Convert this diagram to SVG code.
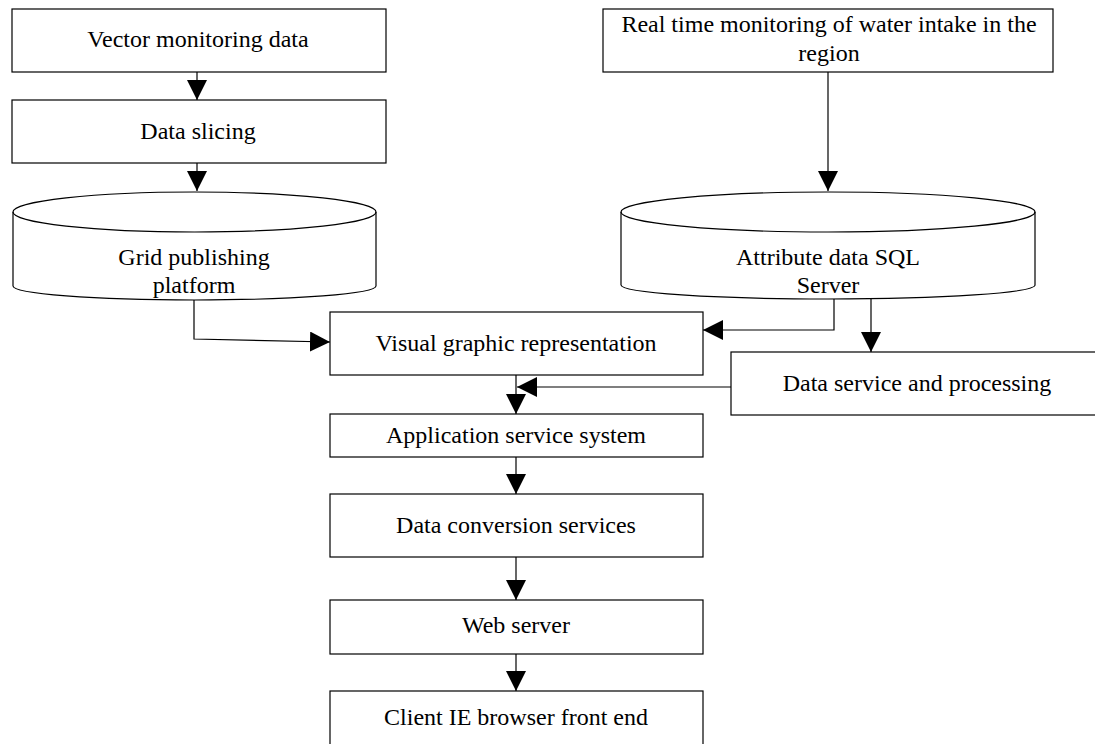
<svg xmlns="http://www.w3.org/2000/svg" width="1095" height="744" viewBox="0 0 1095 744">
<defs>
<style>
.box{fill:#fff;stroke:#000;stroke-width:1.2}
.cyl{fill:#fff;stroke:#000;stroke-width:1.2}
.t{font-family:"Liberation Serif","Times New Roman",serif;font-size:24px;fill:#000;text-anchor:middle}
.c{fill:none;stroke:#000;stroke-width:1.2}
</style>
<marker id="ah" markerUnits="userSpaceOnUse" viewBox="0 0 20 20" refX="20" refY="10" markerWidth="20" markerHeight="20" orient="auto">
<path d="M0,0 L20,10 L0,20 z" fill="#000"/>
</marker>
</defs>
<rect width="1095" height="744" fill="#fff"/>

<g id="vector">
<rect class="box" x="12" y="9" width="374" height="63"/>
<text class="t" x="198" y="47">Vector monitoring data</text>
</g>
<g id="slicing">
<rect class="box" x="12" y="100" width="374" height="63"/>
<text class="t" x="198" y="139">Data slicing</text>
</g>
<g id="grid">
<path class="cyl" d="M13,212 A181.5,20 0 0 1 376,212 L376,286 A181.5,14 0 0 1 13,286 Z"/>
<path class="c" d="M13,212 A181.5,20 0 0 0 376,212"/>
<text class="t" x="194" y="265">Grid publishing</text>
<text class="t" x="194" y="293">platform</text>
</g>
<g id="realtime">
<rect class="box" x="603" y="9" width="450" height="63"/>
<text class="t" x="829" y="32">Real time monitoring of water intake in the</text>
<text class="t" x="829" y="61">region</text>
</g>
<g id="attribute">
<path class="cyl" d="M621,212 A207,20 0 0 1 1035,212 L1035,285 A207,14 0 0 1 621,285 Z"/>
<path class="c" d="M621,212 A207,20 0 0 0 1035,212"/>
<text class="t" x="828" y="265">Attribute data SQL</text>
<text class="t" x="828" y="293">Server</text>
</g>
<g id="visual">
<rect class="box" x="330" y="312" width="373" height="63"/>
<text class="t" x="516" y="351">Visual graphic representation</text>
</g>
<g id="dataservice">
<rect class="box" x="731" y="352" width="370" height="63"/>
<text class="t" x="917" y="391">Data service and processing</text>
</g>
<g id="appservice">
<rect class="box" x="330" y="414" width="373" height="43"/>
<text class="t" x="516" y="443">Application service system</text>
</g>
<g id="conversion">
<rect class="box" x="330" y="494" width="373" height="63"/>
<text class="t" x="516" y="533">Data conversion services</text>
</g>
<g id="webserver">
<rect class="box" x="330" y="600" width="373" height="54"/>
<text class="t" x="516" y="633">Web server</text>
</g>
<g id="client">
<rect class="box" x="330" y="691" width="373" height="70"/>
<text class="t" x="516" y="725">Client IE browser front end</text>
</g>

<g id="connectors">
<path class="c" d="M197,72 L197,100" marker-end="url(#ah)"/>
<path class="c" d="M197,163 L197,191" marker-end="url(#ah)"/>
<path class="c" d="M828,72 L828,191" marker-end="url(#ah)"/>
<path class="c" d="M194,300 L194,339 L330,342" marker-end="url(#ah)"/>
<path class="c" d="M834,299 L834,330 L703,330" marker-end="url(#ah)"/>
<path class="c" d="M871,299 L871,352" marker-end="url(#ah)"/>
<path class="c" d="M516,375 L516,414" marker-end="url(#ah)"/>
<path class="c" d="M731,387 L517,387" marker-end="url(#ah)"/>
<path class="c" d="M516,457 L516,494" marker-end="url(#ah)"/>
<path class="c" d="M516,557 L516,600" marker-end="url(#ah)"/>
<path class="c" d="M516,654 L516,691" marker-end="url(#ah)"/>
</g>
</svg>
